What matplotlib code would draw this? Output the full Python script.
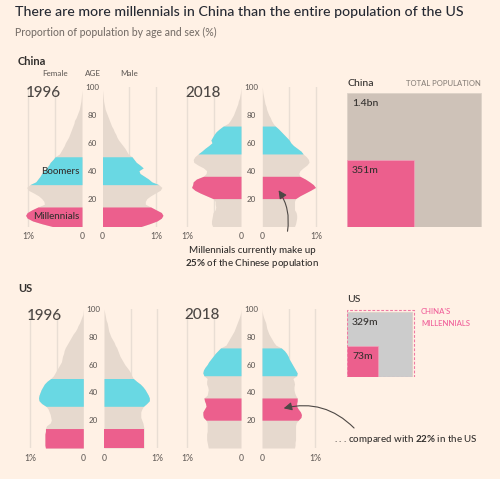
import numpy as np
import matplotlib.pyplot as plt
from matplotlib.patches import Rectangle, FancyArrowPatch

plt.rcParams['font.family'] = ['Lato', 'DejaVu Sans']
plt.rcParams['font.weight'] = 'medium'
plt.rcParams['mathtext.fontset'] = 'custom'
plt.rcParams['mathtext.rm'] = 'Lato:medium'
plt.rcParams['mathtext.bf'] = 'Lato:bold'

W, H = 500, 479
BG = '#fff1e5'
BEIGE = '#e6d9ce'
CYAN = '#69d8e3'
PINK = '#ec5f8d'
GRID = '#e9ded4'
DARK = '#33302e'
GREY = '#66605c'
SQ_CHINA = '#cec2b8'
SQ_US = '#cccccc'

# share of population (%) by single age, ages 0, 2, 4 ... 100
ages = np.arange(0, 101, 2)

china_1996_female = [0.55, 0.75, 0.92, 1.02, 1.05, 1.02, 0.93, 0.82, 0.7, 0.71, 0.75, 0.81, 0.9,
                     1.0, 1.03, 0.97, 0.86, 0.82, 0.78, 0.75, 0.71, 0.66, 0.62, 0.59, 0.54, 0.5,
                     0.42, 0.39, 0.36, 0.33, 0.31, 0.28, 0.25, 0.23, 0.21, 0.19, 0.17, 0.15, 0.14,
                     0.11, 0.09, 0.07, 0.05, 0.04, 0.03, 0.02, 0.015, 0.01, 0.005, 0.0, 0.0]
china_1996_male = [0.72, 0.88, 1.02, 1.1, 1.13, 1.1, 1.0, 0.9, 0.8, 0.8, 0.83, 0.9, 0.99,
                   1.08, 1.11, 1.05, 0.92, 0.86, 0.78, 0.7, 0.68, 0.76, 0.7, 0.63, 0.59, 0.55,
                   0.48, 0.45, 0.42, 0.38, 0.34, 0.3, 0.27, 0.25, 0.22, 0.2, 0.17, 0.15, 0.13,
                   0.11, 0.09, 0.07, 0.05, 0.04, 0.03, 0.02, 0.015, 0.01, 0.005, 0.0, 0.0]
china_2018_female = [0.53, 0.55, 0.55, 0.54, 0.53, 0.52, 0.48, 0.47, 0.48, 0.48, 0.52, 0.64, 0.76,
                     0.86, 0.92, 0.9, 0.89, 0.83, 0.7, 0.65, 0.64, 0.7, 0.8, 0.88, 0.89, 0.86,
                     0.8, 0.73, 0.67, 0.6, 0.54, 0.56, 0.53, 0.5, 0.46, 0.4, 0.33, 0.24, 0.2,
                     0.17, 0.14, 0.12, 0.1, 0.08, 0.06, 0.05, 0.03, 0.02, 0.01, 0.005, 0.0]
china_2018_male = [0.6, 0.62, 0.63, 0.64, 0.64, 0.63, 0.6, 0.6, 0.6, 0.6, 0.62, 0.7, 0.8,
                   0.9, 0.99, 0.95, 0.88, 0.8, 0.7, 0.68, 0.7, 0.76, 0.83, 0.87, 0.86, 0.82,
                   0.76, 0.72, 0.65, 0.58, 0.53, 0.5, 0.45, 0.4, 0.35, 0.3, 0.24, 0.2, 0.17,
                   0.15, 0.12, 0.1, 0.08, 0.07, 0.05, 0.04, 0.03, 0.02, 0.01, 0.005, 0.0]
us_1996_female = [0.71, 0.72, 0.72, 0.72, 0.72, 0.72, 0.71, 0.71, 0.69, 0.62, 0.6, 0.61, 0.62,
                  0.64, 0.66, 0.7, 0.78, 0.83, 0.84, 0.83, 0.81, 0.79, 0.76, 0.73, 0.68, 0.61,
                  0.56, 0.53, 0.5, 0.47, 0.44, 0.41, 0.4, 0.39, 0.37, 0.36, 0.34, 0.31, 0.28,
                  0.25, 0.22, 0.19, 0.15, 0.12, 0.1, 0.07, 0.05, 0.03, 0.01, 0.005, 0.0]
us_1996_male = [0.75, 0.75, 0.75, 0.75, 0.75, 0.75, 0.75, 0.75, 0.74, 0.73, 0.71, 0.69, 0.69,
                0.69, 0.71, 0.74, 0.8, 0.85, 0.85, 0.83, 0.8, 0.77, 0.73, 0.68, 0.61, 0.55,
                0.52, 0.5, 0.47, 0.43, 0.39, 0.36, 0.33, 0.3, 0.28, 0.26, 0.24, 0.21, 0.19,
                0.16, 0.13, 0.11, 0.09, 0.08, 0.07, 0.06, 0.04, 0.03, 0.02, 0.01, 0.0]
us_2018_female = [0.61, 0.62, 0.63, 0.64, 0.64, 0.64, 0.63, 0.63, 0.63, 0.63, 0.65, 0.7, 0.71,
                  0.71, 0.68, 0.65, 0.66, 0.68, 0.69, 0.63, 0.62, 0.61, 0.62, 0.64, 0.64, 0.63,
                  0.69, 0.71, 0.7, 0.67, 0.63, 0.6, 0.56, 0.52, 0.48, 0.43, 0.38, 0.28, 0.25,
                  0.22, 0.19, 0.16, 0.13, 0.11, 0.09, 0.07, 0.05, 0.03, 0.015, 0.005, 0.0]
us_2018_male = [0.61, 0.62, 0.62, 0.63, 0.63, 0.63, 0.63, 0.63, 0.63, 0.64, 0.68, 0.73, 0.74,
                0.72, 0.68, 0.65, 0.65, 0.66, 0.66, 0.63, 0.61, 0.6, 0.6, 0.61, 0.6, 0.58,
                0.65, 0.66, 0.63, 0.6, 0.57, 0.54, 0.51, 0.49, 0.46, 0.42, 0.36, 0.26, 0.22,
                0.19, 0.16, 0.13, 0.11, 0.09, 0.08, 0.07, 0.05, 0.03, 0.015, 0.005, 0.0]

# age bands (generation) for each year
millennial_band = {1996: (0, 14), 2018: (20, 36)}
boomer_band = {1996: (30, 50), 2018: (52, 72)}

# total population and millennials, millions
total_pop = {'China': 1400, 'US': 329}
millennials = {'China': 351, 'US': 73}
pop_labels = {'China': '1.4bn', 'US': '329m'}
mill_labels = {'China': '351m', 'US': '73m'}

fig = plt.figure(figsize=(W / 100, H / 100), dpi=100, facecolor=BG)


def px_axes(x0, y0, x1, y1):
    ax = fig.add_axes([x0 / W, 1 - y1 / H, (x1 - x0) / W, (y1 - y0) / H])
    ax.set_facecolor('none')
    for s in ax.spines.values():
        s.set_visible(False)
    return ax


def txt(x, y, s, **kw):
    kw.setdefault('va', 'center')
    kw.setdefault('color', DARK)
    return fig.text(x / W, 1 - y / H, s, **kw)


def half(zero_x, one_x, y100, y0, values, year, female, label_x=None):
    span = 1.2
    vals = np.array(values)
    if female:
        ax = px_axes(zero_x - span * (zero_x - one_x), y100, zero_x, y0)
        ax.set_xlim(span, 0)
    else:
        ax = px_axes(zero_x, y100, zero_x + span * (one_x - zero_x), y0)
        ax.set_xlim(0, span)
    ax.set_ylim(0, 100)
    for g in (0.5, 1.0):
        ax.axvline(g, color=GRID, lw=1, zorder=0)
    ax.fill_betweenx(ages, 0, vals, color=BEIGE, lw=0, zorder=1)
    for (lo, hi), c in ((millennial_band[year], PINK), (boomer_band[year], CYAN)):
        m = (ages >= lo) & (ages <= hi)
        ax.fill_betweenx(ages[m], 0, vals[m], color=c, lw=0, zorder=2)
    ax.set_xticks([0, 1])
    ax.set_xticklabels(['0', '1%'])
    ax.tick_params(axis='x', length=0, pad=4, labelsize=6.2, labelcolor=GREY)
    if label_x is not None:
        ax.set_yticks([20, 40, 60, 80, 100])
        ax.tick_params(axis='y', length=0, labelsize=5.8, labelcolor=GREY,
                       pad=(zero_x - label_x) * 0.72)
        for lab in ax.get_yticklabels():
            lab.set_horizontalalignment('center')
    else:
        ax.set_yticks([])
    return ax


panels = [
    # female, male, female 0/1% px, male 0/1% px, age 100 / 0 px, year, age label x
    (china_1996_female, china_1996_male, 82, 28.3, 102.5, 156, 87, 226.5, 1996, 92.5),
    (china_2018_female, china_2018_male, 241, 187.3, 262.3, 316, 87, 226.5, 2018, 251.5),
    (us_1996_female, us_1996_male, 83.3, 30, 104, 157.3, 309, 448, 1996, 93.5),
    (us_2018_female, us_2018_male, 241, 187.3, 262, 315.3, 309, 448, 2018, 251.5),
]
for f, m, f0, f1, m0, m1, yt, yb, year, lx in panels:
    half(f0, f1, yt, yb, f, year, True)
    half(m0, m1, yt, yb, m, year, False, label_x=lx)

# headings
txt(15, 12.5, 'There are more millennials in China than the entire population of the US',
    fontsize=10.2, color='#262a33')
txt(15, 32, 'Proportion of population by age and sex (%)', fontsize=7.6, color='#7a726c')
txt(18, 61.5, 'China', fontsize=8, fontweight='bold')
txt(18, 288, 'US', fontsize=8, fontweight='bold')
txt(55, 74, 'Female', fontsize=5.8, color=GREY, ha='center')
txt(92.5, 74, 'AGE', fontsize=5.8, color=GREY, ha='center')
txt(129, 74, 'Male', fontsize=5.8, color=GREY, ha='center')
for x, y, s in ((26, 93, '1996'), (185, 93, '2018'), (27, 316, '1996'), (184, 315, '2018')):
    txt(x, y, s, fontsize=11, color='#4d4845')
txt(79, 171, 'Boomers', fontsize=7, ha='right')
txt(79, 217, 'Millennials', fontsize=7, ha='right')

# annotations
txt(252, 250, 'Millennials currently make up', fontsize=7, ha='center')
txt(252, 263, r'$\mathbf{25\%}$ of the Chinese population', fontsize=7, ha='center')
txt(334, 440, r'. . . compared with $\mathbf{22\%}$ in the US', fontsize=7, ha='left')
for (xa, ya), (xb, yb), rad in (((287, 234), (277, 188), 0.22),
                                ((356, 430), (281, 409), 0.3)):
    fig.patches.append(FancyArrowPatch((xa, H - ya), (xb, H - yb), transform=None,
                                       connectionstyle=f'arc3,rad={rad}',
                                       arrowstyle='-|>,head_length=0.6,head_width=0.3',
                                       mutation_scale=8, lw=0.8, color='#4d4845'))

# squares, side proportional to sqrt(population)
K = 134 / np.sqrt(total_pop['China'])
for country, bottom, sq_col in (('China', 227, SQ_CHINA), ('US', 377, SQ_US)):
    ax = px_axes(347, bottom - 145, 347 + 145, bottom)
    ax.set_xlim(0, 145 / K)
    ax.set_ylim(0, 145 / K)
    ax.set_xticks([])
    ax.set_yticks([])
    s_tot = np.sqrt(total_pop[country])
    s_mil = np.sqrt(millennials[country])
    ax.add_patch(Rectangle((0, 0), s_tot, s_tot, fc=sq_col, ec='#ddd2c8', lw=0.6))
    ax.add_patch(Rectangle((0, 0), s_mil, s_mil, fc=PINK, ec='#f2a0ba', lw=0.5))
    ax.annotate(pop_labels[country], xy=(0, s_tot), xytext=(3.6, -7.4),
                textcoords='offset points', va='center', fontsize=7.5, color=DARK)
    ax.annotate(mill_labels[country], xy=(0, s_mil), xytext=(3.6, -7.4),
                textcoords='offset points', va='center', fontsize=7.5, color=DARK)
    if country == 'US':
        s_cm = np.sqrt(millennials['China'])
        ax.add_patch(Rectangle((0, 0), s_cm, s_cm, fc='none', ec='#f07aa3', lw=0.8,
                               ls=(0, (2.5, 1.5))))

txt(347, 83, 'China', fontsize=7.5)
txt(481, 83, 'TOTAL POPULATION', fontsize=5.5, color='#8a827b', ha='right')
txt(347, 299, 'US', fontsize=7.5)
txt(421, 312, "CHINA'S", fontsize=5.6, color='#f0609a')
txt(421, 323, 'MILLENNIALS', fontsize=5.6, color='#f0609a')

fig.savefig('out.png', dpi=100, facecolor=BG)
